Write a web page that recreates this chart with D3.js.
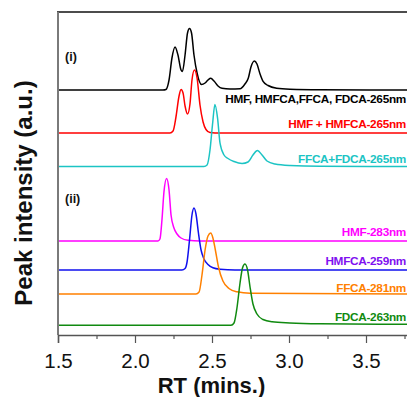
<!DOCTYPE html>
<html>
<head>
<meta charset="utf-8">
<script src="https://cdn.jsdelivr.net/npm/d3@7"></script>
<style>
  html, body { margin: 0; padding: 0; background: #fff; }
  svg { display: block; font-family: "Liberation Sans", Arial, Helvetica, sans-serif; }
</style>
</head>
<body>
<svg id="chart" width="407" height="397"></svg>
<script>
// ---- data (RT in min, intensity in a.u. above each trace's baseline) ----
const seriesNames = ["HMF, HMFCA,FFCA, FDCA-265nm", "HMF + HMFCA-265nm", "FFCA+FDCA-265nm",
                     "HMF-283nm", "HMFCA-259nm", "FFCA-281nm", "FDCA-263nm"];
const seriesOffsets = [245, 202, 168.5, 94, 65, 41, 9.7];
const lineColors  = ["#000000", "#ff0000", "#1cc4c4", "#ff00ff", "#1010ee", "#ff8000", "#108a10"];
const labelColors = ["#000000", "#ff0000", "#1cc4c4", "#ff00ff", "#7f10f0", "#ff8000", "#108a10"];

const rtMix = [1.5, 2.182, 2.201, 2.221, 2.240, 2.260, 2.279, 2.299, 2.308, 2.325, 2.341, 2.354, 2.367, 2.383, 2.403, 2.432, 2.455, 2.474, 2.492, 2.513, 2.539, 2.565, 2.617, 2.682, 2.714, 2.736, 2.753, 2.775, 2.792, 2.812, 2.833, 2.864, 2.920, 3.006, 3.201, 3.8];
const intMix = [0, 0, 0.5, 10, 32, 43, 35, 20, 18.5, 35, 57, 61.5, 57, 35, 17, 5.5, 7, 10, 11.7, 9, 4, 1.7, 1, 1.2, 6, 12, 23, 29, 26, 16, 8.3, 4.5, 1.7, 0.7, 0.2, 0];

const rtHmfHmfca = [1.5, 2.227, 2.247, 2.266, 2.286, 2.299, 2.312, 2.325, 2.341, 2.357, 2.370, 2.386, 2.403, 2.422, 2.442, 2.461, 2.487, 2.552, 3.8];
const intHmfHmfca = [0, 0, 2, 16, 37, 43.5, 40, 27, 19, 29, 53, 63, 55, 28, 11, 3.5, 0.5, 0, 0];

const rtFfcaFdca = [1.5, 2.448, 2.468, 2.487, 2.503, 2.519, 2.536, 2.552, 2.578, 2.604, 2.643, 2.695, 2.734, 2.766, 2.795, 2.825, 2.857, 2.909, 3.006, 3.201, 3.8];
const intFfcaFdca = [0, 0, 1.5, 16.5, 41.5, 62, 48.5, 23.5, 11.5, 8, 5, 3, 4.5, 11.5, 16, 11.5, 5.5, 2.5, 1, 0.2, 0];

const rtHmf = [1.5, 2.149, 2.162, 2.175, 2.188, 2.205, 2.221, 2.234, 2.253, 2.273, 2.299, 2.344, 2.422, 3.8];
const intHmf = [0, 0, 2, 21, 49, 62.5, 51, 26, 13, 7, 3, 0.7, 0, 0];

const rtHmfca = [1.5, 2.305, 2.325, 2.338, 2.354, 2.370, 2.383, 2.396, 2.412, 2.429, 2.448, 2.474, 2.506, 2.552, 2.649, 3.8];
const intHmfca = [0, 0, 1.5, 8, 30, 55, 62, 56, 37, 20, 11, 5.5, 2.2, 0.7, 0, 0];

const rtFfca = [1.5, 2.396, 2.416, 2.435, 2.455, 2.474, 2.492, 2.506, 2.523, 2.542, 2.571, 2.610, 2.662, 2.747, 3.8];
const intFfca = [0, 0, 2, 19, 44, 58, 61, 56, 43, 27, 13, 5.5, 2.2, 0.7, 0];

const rtFdca = [1.5, 2.623, 2.643, 2.662, 2.682, 2.698, 2.714, 2.731, 2.747, 2.766, 2.792, 2.831, 2.890, 3.006, 3.201, 3.8];
const intFdca = [0, 0, 2.3, 17.3, 42.3, 57.3, 61.3, 55.3, 38.3, 21.3, 11.3, 5.8, 3.5, 2.3, 1.5, 1];

const seriesRT  = [rtMix, rtHmfHmfca, rtFfcaFdca, rtHmf, rtHmfca, rtFfca, rtFdca];
const seriesInt = [intMix, intHmfHmfca, intFfcaFdca, intHmf, intHmfca, intFfca, intFdca];

const xTicks = [1.5, 2.0, 2.5, 3.0, 3.5];
const xMinorTicks = [1.75, 2.25, 2.75, 3.25, 3.75];
const groupLabels = ["(i)", "(ii)"];
const groupLabelLevels = [274, 132];   // a.u. height of the group labels
const labelLevels = [232, 207, 172, 99, 70, 43, 14]; // a.u. height of curve label baselines

// ---- layout ----
const svg = d3.select("#chart");
const mLeft = 58, mTop = 12, mBottom = 335;
const x = d3.scaleLinear().domain([1.5, 3.8]).range([mLeft, mLeft + 154 * 2.3]);
const y = d3.scaleLinear().domain([0, 323]).range([mBottom, mTop]);

// curves
const line = d3.line().x(d => x(d[0])).y(d => y(d[1])).curve(d3.curveMonotoneX);
seriesNames.forEach((name, i) => {
  const pts = seriesRT[i].map((rt, j) => [rt, seriesInt[i][j] + seriesOffsets[i]]);
  svg.append("path").attr("d", line(pts)).attr("fill", "none")
     .attr("stroke", lineColors[i]).attr("stroke-width", 1.5).attr("stroke-linejoin", "round");
});

// frame top
svg.append("line").attr("x1", mLeft - 1).attr("x2", 420).attr("y1", mTop).attr("y2", mTop)
   .attr("stroke", "#111").attr("stroke-width", 1.5);

// left axis line
svg.append("line").attr("x1", mLeft).attr("x2", mLeft).attr("y1", mTop).attr("y2", mBottom)
   .attr("stroke", "#7a7a7a").attr("stroke-width", 2);

// x axis
const gx = svg.append("g").attr("transform", `translate(0,${mBottom})`)
  .call(d3.axisBottom(x).tickValues(xTicks).tickFormat(d3.format(".1f")).tickSize(8).tickPadding(10));
gx.select(".domain").attr("stroke", "#555").attr("stroke-width", 1.5);
gx.selectAll(".tick line").attr("stroke", "#555").attr("stroke-width", 1.2);
gx.selectAll(".tick text").attr("font-size", 20.5).attr("fill", "#111")
  .attr("font-family", "'Liberation Sans', Arial, sans-serif");
const gm = svg.append("g").attr("transform", `translate(0,${mBottom})`)
  .call(d3.axisBottom(x).tickValues(xMinorTicks).tickFormat("").tickSize(4));
gm.select(".domain").remove();
gm.selectAll(".tick line").attr("stroke", "#555").attr("stroke-width", 1.2);

// axis titles
svg.append("text").attr("x", 211.5).attr("y", 392.5).attr("text-anchor", "middle")
   .attr("font-size", 22).attr("font-weight", "bold").attr("fill", "#111").text("RT (mins.)");
svg.append("text").attr("transform", "translate(32,193) rotate(-90)").attr("text-anchor", "middle")
   .attr("font-size", 24).attr("font-weight", "bold").attr("fill", "#111").text("Peak intensity (a.u.)");

// curve labels
seriesNames.forEach((name, i) => {
  svg.append("text").attr("x", 406).attr("y", y(labelLevels[i])).attr("text-anchor", "end")
     .attr("font-size", 11.8).attr("font-weight", "bold").attr("fill", labelColors[i])
     .attr("letter-spacing", -0.3).text(name);
});

// group labels
groupLabels.forEach((g, i) => {
  svg.append("text").attr("x", 65).attr("y", y(groupLabelLevels[i])).attr("font-size", 12.5)
     .attr("font-weight", "bold").attr("fill", "#111").text(g);
});
</script>
</body>
</html>
